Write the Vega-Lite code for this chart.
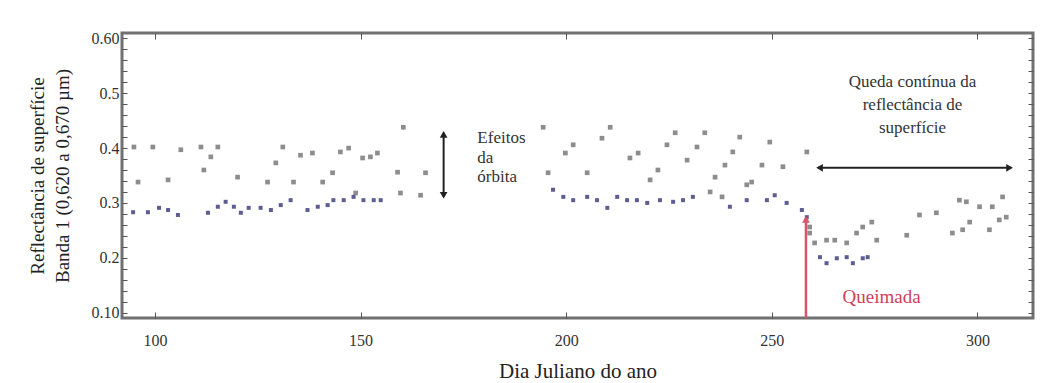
{
  "$schema": "https://vega.github.io/schema/vega-lite/v6.json",
  "width": 911,
  "height": 285,
  "autosize": {"type": "none"},
  "padding": {"left": 122, "top": 33, "right": 25, "bottom": 65},
  "background": "white",
  "config": {
    "view": {"stroke": "#707070", "strokeWidth": 3},
    "font": "Liberation Serif",
    "axis": {"domain": false, "grid": false, "labelFont": "Liberation Serif", "titleFont": "Liberation Serif", "tickColor": "#555", "labelColor": "#333", "titleColor": "#222", "titleFontWeight": "normal"}
  },
  "datasets": {
    "gray": [
      {"day": 94.9, "r": 0.402}, {"day": 95.9, "r": 0.338}, {"day": 99.5, "r": 0.402}, {"day": 103.2, "r": 0.342},
      {"day": 106.3, "r": 0.397}, {"day": 111.2, "r": 0.402}, {"day": 111.9, "r": 0.360}, {"day": 113.6, "r": 0.384},
      {"day": 115.3, "r": 0.402}, {"day": 120.1, "r": 0.347}, {"day": 127.4, "r": 0.338}, {"day": 129.4, "r": 0.373},
      {"day": 131.1, "r": 0.402}, {"day": 133.7, "r": 0.338}, {"day": 135.4, "r": 0.387}, {"day": 138.3, "r": 0.391},
      {"day": 140.8, "r": 0.338}, {"day": 143.2, "r": 0.355}, {"day": 145.1, "r": 0.393}, {"day": 147.1, "r": 0.400},
      {"day": 148.8, "r": 0.318}, {"day": 150.5, "r": 0.382}, {"day": 152.4, "r": 0.384}, {"day": 154.1, "r": 0.391},
      {"day": 159.0, "r": 0.356}, {"day": 159.7, "r": 0.318}, {"day": 160.4, "r": 0.438}, {"day": 164.6, "r": 0.314},
      {"day": 165.8, "r": 0.355},
      {"day": 194.4, "r": 0.438}, {"day": 195.6, "r": 0.355}, {"day": 199.8, "r": 0.391}, {"day": 201.7, "r": 0.406},
      {"day": 205.1, "r": 0.355}, {"day": 208.7, "r": 0.418}, {"day": 210.7, "r": 0.438}, {"day": 215.5, "r": 0.382},
      {"day": 217.5, "r": 0.391}, {"day": 220.4, "r": 0.342}, {"day": 222.3, "r": 0.360}, {"day": 224.5, "r": 0.406},
      {"day": 226.5, "r": 0.428}, {"day": 229.4, "r": 0.378}, {"day": 231.8, "r": 0.402}, {"day": 233.7, "r": 0.428},
      {"day": 235.0, "r": 0.320}, {"day": 236.2, "r": 0.347}, {"day": 237.9, "r": 0.311}, {"day": 238.6, "r": 0.369},
      {"day": 240.5, "r": 0.393}, {"day": 242.2, "r": 0.420}, {"day": 243.9, "r": 0.333}, {"day": 245.1, "r": 0.338},
      {"day": 247.6, "r": 0.369}, {"day": 249.5, "r": 0.411}, {"day": 252.7, "r": 0.366}, {"day": 258.5, "r": 0.393},
      {"day": 259.2, "r": 0.256}, {"day": 259.2, "r": 0.245}, {"day": 260.4, "r": 0.227}, {"day": 263.3, "r": 0.232},
      {"day": 265.3, "r": 0.232}, {"day": 268.2, "r": 0.227}, {"day": 270.6, "r": 0.245}, {"day": 272.1, "r": 0.256},
      {"day": 274.3, "r": 0.265}, {"day": 275.5, "r": 0.232}, {"day": 282.8, "r": 0.241}, {"day": 285.9, "r": 0.278},
      {"day": 290.0, "r": 0.282}, {"day": 293.9, "r": 0.245}, {"day": 295.6, "r": 0.305}, {"day": 296.4, "r": 0.251},
      {"day": 297.3, "r": 0.302}, {"day": 298.1, "r": 0.265}, {"day": 300.5, "r": 0.293}, {"day": 302.9, "r": 0.251},
      {"day": 303.6, "r": 0.293}, {"day": 305.3, "r": 0.269}, {"day": 306.1, "r": 0.311}, {"day": 307.0, "r": 0.274}
    ],
    "blue": [
      {"day": 94.7, "r": 0.283}, {"day": 98.3, "r": 0.283}, {"day": 101.0, "r": 0.291}, {"day": 103.2, "r": 0.287},
      {"day": 105.6, "r": 0.278}, {"day": 112.9, "r": 0.282}, {"day": 115.3, "r": 0.293}, {"day": 117.2, "r": 0.302},
      {"day": 119.2, "r": 0.293}, {"day": 120.9, "r": 0.282}, {"day": 122.8, "r": 0.291}, {"day": 125.7, "r": 0.291},
      {"day": 128.2, "r": 0.287}, {"day": 130.6, "r": 0.296}, {"day": 133.0, "r": 0.305}, {"day": 137.1, "r": 0.287},
      {"day": 139.6, "r": 0.293}, {"day": 142.0, "r": 0.296}, {"day": 143.4, "r": 0.305}, {"day": 145.9, "r": 0.305},
      {"day": 148.3, "r": 0.311}, {"day": 150.7, "r": 0.305}, {"day": 153.2, "r": 0.305}, {"day": 154.9, "r": 0.305},
      {"day": 196.8, "r": 0.324}, {"day": 199.3, "r": 0.311}, {"day": 201.7, "r": 0.305}, {"day": 205.1, "r": 0.311},
      {"day": 207.5, "r": 0.305}, {"day": 210.0, "r": 0.291}, {"day": 212.4, "r": 0.311}, {"day": 214.8, "r": 0.305},
      {"day": 217.2, "r": 0.305}, {"day": 219.7, "r": 0.300}, {"day": 222.8, "r": 0.305}, {"day": 226.0, "r": 0.302},
      {"day": 228.4, "r": 0.305}, {"day": 230.8, "r": 0.311}, {"day": 239.8, "r": 0.293}, {"day": 243.9, "r": 0.305},
      {"day": 248.8, "r": 0.305}, {"day": 250.7, "r": 0.314}, {"day": 253.6, "r": 0.300}, {"day": 257.3, "r": 0.287},
      {"day": 258.5, "r": 0.274},
      {"day": 261.7, "r": 0.201}, {"day": 263.3, "r": 0.190}, {"day": 265.8, "r": 0.199}, {"day": 268.2, "r": 0.201},
      {"day": 269.7, "r": 0.190}, {"day": 272.1, "r": 0.199}, {"day": 273.3, "r": 0.201}
    ],
    "blackRules": [
      {"day": 170.2, "day2": 170.2, "r": 0.311, "r2": 0.428},
      {"day": 261.2, "day2": 308.2, "r": 0.364, "r2": 0.364}
    ],
    "blackHeads": [
      {"day": 170.2, "r": 0.425, "dir": "up"},
      {"day": 170.2, "r": 0.314, "dir": "down"},
      {"day": 261.6, "r": 0.364, "dir": "left"},
      {"day": 307.8, "r": 0.364, "dir": "right"}
    ],
    "redRule": [{"day": 258.3, "r": 0.09, "r2": 0.272}],
    "redHead": [{"day": 258.3, "r": 0.27, "dir": "up"}],
    "notesLeft": [
      {"day": 178.4, "r": 0.418, "label": "Efeitos"},
      {"day": 178.4, "r": 0.382, "label": "da"},
      {"day": 178.4, "r": 0.347, "label": "órbita"}
    ],
    "notesCenter": [
      {"day": 284.2, "r": 0.521, "label": "Queda contínua da"},
      {"day": 284.2, "r": 0.479, "label": "reflectância de"},
      {"day": 284.2, "r": 0.437, "label": "superfície"}
    ],
    "redNote": [{"day": 276.7, "r": 0.128, "label": "Queimada"}]
  },
  "layer": [
    {
      "data": {"name": "gray"},
      "mark": {"type": "point", "shape": "square", "filled": true, "size": 22, "color": "#878787", "opacity": 0.95},
      "encoding": {
        "x": {"field": "day", "type": "quantitative", "scale": {"domain": [92, 313.5], "nice": false, "zero": false},
          "axis": {"orient": "bottom", "values": [100, 150, 200, 250, 300], "tickSize": -6, "labelPadding": 20, "labelFontSize": 16, "labelFont": "Liberation Serif", "title": "Dia Juliano do ano", "titleFont": "Liberation Serif", "titleFontSize": 21, "titlePadding": 12}},
        "y": {"field": "r", "type": "quantitative", "scale": {"domain": [0.09, 0.61], "nice": false, "zero": false},
          "axis": {"orient": "left", "values": [0.1, 0.12, 0.14, 0.16, 0.18, 0.2, 0.22, 0.24, 0.26, 0.28, 0.3, 0.32, 0.34, 0.36, 0.38, 0.4, 0.42, 0.44, 0.46, 0.48, 0.5, 0.52, 0.54, 0.56, 0.58, 0.6],
            "labelExpr": "abs(datum.value*10 - round(datum.value*10)) < 0.01 ? ((datum.value > 0.59 || datum.value < 0.11) ? format(datum.value, '.2f') : format(datum.value, '.1f')) : ''",
            "tickSize": -5, "labelPadding": 8, "labelFontSize": 16, "labelFont": "Liberation Serif",
            "title": ["Reflectância de superfície", "Banda 1 (0,620 a 0,670 µm)"], "titleFont": "Liberation Serif", "titleFontSize": 19, "titleLineHeight": 25, "titlePadding": 19}}
      }
    },
    {
      "data": {"name": "blue"},
      "mark": {"type": "point", "shape": "square", "filled": true, "size": 16, "color": "#4b4b86", "opacity": 0.9},
      "encoding": {
        "x": {"field": "day", "type": "quantitative", "axis": {"orient": "top", "values": [100, 150, 200, 250, 300], "labels": false, "tickSize": -6, "title": null}},
        "y": {"field": "r", "type": "quantitative", "axis": {"orient": "right", "values": [0.1, 0.12, 0.14, 0.16, 0.18, 0.2, 0.22, 0.24, 0.26, 0.28, 0.3, 0.32, 0.34, 0.36, 0.38, 0.4, 0.42, 0.44, 0.46, 0.48, 0.5, 0.52, 0.54, 0.56, 0.58, 0.6], "labels": false, "tickSize": -5, "title": null}}
      }
    },
    {
      "data": {"name": "blackRules"},
      "mark": {"type": "rule", "color": "#222", "strokeWidth": 2},
      "encoding": {
        "x": {"field": "day", "type": "quantitative", "axis": null},
        "x2": {"field": "day2"},
        "y": {"field": "r", "type": "quantitative", "axis": null},
        "y2": {"field": "r2"}
      }
    },
    {
      "data": {"name": "blackHeads"},
      "mark": {"type": "point", "filled": true, "size": 60, "color": "#222", "opacity": 1},
      "encoding": {
        "x": {"field": "day", "type": "quantitative", "axis": null},
        "y": {"field": "r", "type": "quantitative", "axis": null},
        "shape": {"field": "dir", "type": "nominal", "scale": {"domain": ["up", "down", "left", "right"], "range": ["triangle-up", "triangle-down", "triangle-left", "triangle-right"]}, "legend": null}
      }
    },
    {
      "data": {"name": "redRule"},
      "mark": {"type": "rule", "color": "#d9546a", "strokeWidth": 2.5},
      "encoding": {
        "x": {"field": "day", "type": "quantitative", "axis": null},
        "y": {"field": "r", "type": "quantitative", "axis": null},
        "y2": {"field": "r2"}
      }
    },
    {
      "data": {"name": "redHead"},
      "mark": {"type": "point", "filled": true, "size": 60, "color": "#d9546a", "opacity": 1, "shape": "triangle-up"},
      "encoding": {
        "x": {"field": "day", "type": "quantitative", "axis": null},
        "y": {"field": "r", "type": "quantitative", "axis": null}
      }
    },
    {
      "data": {"name": "notesLeft"},
      "mark": {"type": "text", "align": "left", "baseline": "middle", "fontSize": 17, "color": "#333", "font": "Liberation Serif"},
      "encoding": {
        "x": {"field": "day", "type": "quantitative", "axis": null},
        "y": {"field": "r", "type": "quantitative", "axis": null},
        "text": {"field": "label"}
      }
    },
    {
      "data": {"name": "notesCenter"},
      "mark": {"type": "text", "align": "center", "baseline": "middle", "fontSize": 17, "color": "#333", "font": "Liberation Serif"},
      "encoding": {
        "x": {"field": "day", "type": "quantitative", "axis": null},
        "y": {"field": "r", "type": "quantitative", "axis": null},
        "text": {"field": "label"}
      }
    },
    {
      "data": {"name": "redNote"},
      "mark": {"type": "text", "align": "center", "baseline": "middle", "fontSize": 19, "color": "#d0405a", "font": "Liberation Serif"},
      "encoding": {
        "x": {"field": "day", "type": "quantitative", "axis": null},
        "y": {"field": "r", "type": "quantitative", "axis": null},
        "text": {"field": "label"}
      }
    }
  ],
  "resolve": {"axis": {"x": "independent", "y": "independent"}}
}
